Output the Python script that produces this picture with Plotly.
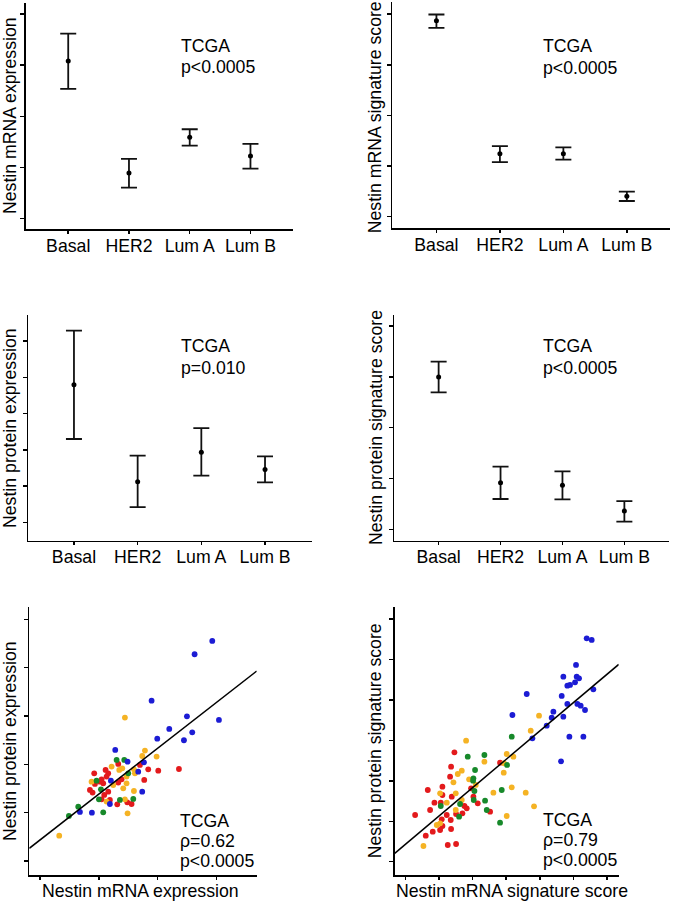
import numpy as np
import plotly.graph_objects as go

W, H = 675, 903
FONT = "Arial, Liberation Sans, sans-serif"
FS = 17.7

# ---------------- data ----------------
categories = ["Basal", "HER2", "Lum A", "Lum B"]

mrna_expr_mean = [3.085, 0.889, 1.588, 1.222]
mrna_expr_upper = [3.62, 1.163, 1.745, 1.458]
mrna_expr_lower = [2.536, 0.601, 1.425, 0.974]

mrna_sig_mean = [3.868, 1.243, 1.243, 0.401]
mrna_sig_upper = [3.993, 1.395, 1.368, 0.493]
mrna_sig_lower = [3.73, 1.079, 1.125, 0.309]

prot_expr_mean = [3.796, 1.121, 1.93, 1.461]
prot_expr_upper = [5.285, 1.838, 2.60, 1.82]
prot_expr_lower = [2.298, 0.423, 1.287, 1.103]

prot_sig_mean = [2.997, 0.918, 0.866, 0.361]
prot_sig_upper = [3.298, 1.233, 1.141, 0.557]
prot_sig_lower = [2.695, 0.597, 0.590, 0.151]

# scatter 1: mRNA expression vs protein expression
s1_blue_x = [2.926, 2.626, 1.896, 2.496, 3.039, 2.196, 2.586, 1.992, 2.445, 1.279, 1.766, 1.488, 1.669, 1.737, 0.679, 0.883, 1.188, 1.205]
s1_blue_y = [4.552, 4.276, 3.317, 2.993, 2.917, 2.731, 2.662, 2.531, 2.497, 2.297, 2.041, 2.055, 1.848, 1.434, 1.014, 1.0, 1.179, 1.662]
s1_green_x = [0.492, 0.651, 1.075, 1.302, 1.432, 0.962, 1.002, 1.358, 1.585, 1.500, 1.036]
s1_green_y = [0.931, 1.124, 1.007, 2.090, 2.090, 1.662, 1.276, 1.262, 1.283, 1.814, 1.483]
s1_yellow_x = [0.328, 1.443, 1.783, 1.981, 1.737, 1.217, 1.596, 1.613, 1.471, 0.877, 1.245, 1.415, 1.471, 1.596, 1.132, 1.443, 1.488, 1.347, 1.398]
s1_yellow_y = [0.524, 2.966, 2.283, 2.159, 2.172, 1.952, 1.897, 1.814, 1.745, 1.641, 1.572, 1.503, 1.607, 1.448, 1.228, 1.276, 0.986, 1.883, 1.917]
s1_red_x = [1.330, 1.698, 1.839, 2.009, 1.771, 0.922, 1.115, 1.160, 1.047, 1.075, 0.934, 0.849, 0.894, 1.160, 1.092, 1.387, 1.330, 1.188, 1.313, 1.483, 1.556, 1.047, 2.360, 1.019, 1.132]
s1_red_y = [2.007, 1.986, 1.897, 1.869, 1.676, 1.814, 1.883, 1.814, 1.690, 1.607, 1.593, 1.469, 1.414, 1.434, 1.366, 1.690, 1.621, 1.262, 1.172, 1.214, 1.179, 1.276, 1.903, 1.641, 1.745]
s1_fit_intercept = 0.433
s1_fit_slope = 0.950

# scatter 2: mRNA signature vs protein signature
s2_blue_x = [5.397, 5.546, 5.079, 4.702, 5.099, 5.169, 5.050, 4.901, 4.821, 5.595, 3.611, 4.653, 4.821, 5.119, 5.218, 5.347, 4.405, 4.355, 4.702, 4.206, 3.185, 3.780, 4.881, 5.298, 4.633]
s2_blue_y = [5.528, 5.487, 4.868, 4.579, 4.579, 4.538, 4.439, 4.373, 4.356, 4.266, 4.150, 4.101, 3.903, 3.903, 3.861, 3.754, 3.713, 3.564, 3.589, 3.366, 3.630, 3.053, 3.094, 3.094, 2.483]
s2_green_x = [1.855, 2.351, 2.073, 2.024, 2.014, 2.054, 2.371, 2.421, 2.867, 2.817, 1.597, 1.627, 1.052, 3.165, 3.026, 2.034]
s2_green_y = [2.599, 2.640, 2.269, 2.063, 2.005, 1.749, 1.510, 1.279, 1.774, 0.965, 1.114, 1.427, 1.378, 3.094, 2.393, 1.526]
s2_yellow_x = [3.978, 3.730, 1.806, 2.351, 3.016, 3.214, 2.937, 1.677, 1.558, 1.429, 1.895, 2.093, 1.032, 1.498, 2.619, 3.165, 3.581, 3.829, 1.230, 1.677, 1.498, 1.032, 0.933, 0.536, 3.016, 2.927]
s2_yellow_y = [3.614, 3.243, 2.995, 2.475, 2.665, 2.599, 2.434, 2.252, 2.170, 1.964, 2.038, 1.898, 1.691, 1.691, 1.708, 1.840, 1.708, 1.370, 1.460, 1.526, 1.279, 0.949, 0.908, 0.388, 1.130, 2.203]
s2_red_x = [1.458, 1.359, 1.329, 1.101, 0.665, 1.101, 0.863, 1.052, 1.379, 0.734, 0.288, 1.230, 1.081, 1.349, 1.508, 1.756, 1.825, 1.696, 1.954, 2.024, 2.153, 2.520, 2.817, 1.101, 1.032, 0.813, 0.605, 1.260, 1.508, 1.359]
s2_red_y = [2.706, 2.351, 2.104, 1.856, 1.774, 1.650, 1.460, 1.460, 1.609, 1.279, 1.155, 1.155, 1.048, 1.031, 1.180, 1.378, 1.320, 1.196, 1.815, 1.609, 1.444, 1.238, 2.450, 0.883, 0.784, 0.743, 0.644, 0.413, 0.437, 0.809]
s2_fit_intercept = 0.430
s2_fit_slope = 0.701

# ---------------- helpers ----------------
def fx(p):
    return p / W


def fy(p):
    return 1 - p / H


BLUE = "#1c1cd4"
GREEN = "#17892a"
YELLOW = "#f5b324"
RED = "#e31a1c"

fig = go.Figure()

axis_common = dict(showgrid=False, zeroline=False, showline=True, linecolor="black",
                   linewidth=1.5, ticks="outside", tickcolor="black", tickwidth=1.5,
                   fixedrange=True)

# (axis suffix, x pixel domain, y pixel domain, x range, y range, x tickvals, y tickvals)
panels = [
    ("", (25.7, 293), (3, 229.3), [-0.70, 3.70], [-0.216, 4.22], None, [0, 1, 2, 3, 4]),
    ("2", (392, 670), (2, 228.3), [-0.70, 3.68], [-0.23, 4.24], None, [0, 1, 2, 3, 4]),
    ("3", (28.3, 311.7), (315, 540.7), [-0.717, 3.733], [-0.505, 5.717], None, [0, 1, 2, 3, 4, 5]),
    ("4", (394.3, 668.7), (315, 540.7), [-0.716, 3.716], [-0.223, 4.216], None, [0, 1, 2, 3, 4]),
    ("5", (29.3, 256.7), (606.7, 875), [-0.18, 3.68], [-0.29, 5.26], [0, 1, 2, 3], [0, 1, 2, 3, 4, 5]),
    ("6", (394.7, 618.7), (606.7, 875), [-0.32, 6.35], [-0.33, 6.31], [0, 1, 2, 3, 4, 5, 6], [0, 1, 2, 3, 4, 5, 6]),
]

for suf, xd, yd, xr, yr, xt, yt in panels:
    xa = dict(axis_common, domain=[fx(xd[0]), fx(xd[1])], range=xr,
              anchor="y" + suf, ticklen=3)
    if xt is None:
        xa.update(type="category", categoryorder="array", categoryarray=categories,
                  tickfont=dict(family=FONT, size=FS, color="black"), ticklabelstandoff=-3)
    else:
        xa.update(tickvals=xt, showticklabels=False)
    ya = dict(axis_common, domain=[fy(yd[1]), fy(yd[0])], range=yr,
              anchor="x" + suf, tickvals=yt, showticklabels=False, ticklen=4)
    fig.update_layout(**{"xaxis" + suf: xa, "yaxis" + suf: ya})

# ---------------- error bar panels ----------------
bar_sets = [
    ("", mrna_expr_mean, mrna_expr_upper, mrna_expr_lower),
    ("2", mrna_sig_mean, mrna_sig_upper, mrna_sig_lower),
    ("3", prot_expr_mean, prot_expr_upper, prot_expr_lower),
    ("4", prot_sig_mean, prot_sig_upper, prot_sig_lower),
]
for suf, m, up, lo in bar_sets:
    m = np.array(m)
    fig.add_trace(go.Scatter(
        x=categories, y=m, mode="markers", xaxis="x" + suf, yaxis="y" + suf,
        marker=dict(color="black", size=5),
        error_y=dict(type="data", symmetric=False, array=np.array(up) - m,
                     arrayminus=m - np.array(lo), color="#111111", thickness=1.8, width=8),
        showlegend=False, hoverinfo="skip"))

# ---------------- scatter panels ----------------
scatter_sets = [
    ("5", [(s1_red_x, s1_red_y, RED), (s1_yellow_x, s1_yellow_y, YELLOW),
           (s1_green_x, s1_green_y, GREEN), (s1_blue_x, s1_blue_y, BLUE)],
     s1_fit_intercept, s1_fit_slope, [-0.18, 3.68]),
    ("6", [(s2_red_x, s2_red_y, RED), (s2_yellow_x, s2_yellow_y, YELLOW),
           (s2_green_x, s2_green_y, GREEN), (s2_blue_x, s2_blue_y, BLUE)],
     s2_fit_intercept, s2_fit_slope, [-0.32, 6.35]),
]
for suf, groups, b0, b1, xr in scatter_sets:
    for gx, gy, col in groups:
        fig.add_trace(go.Scatter(x=gx, y=gy, mode="markers", xaxis="x" + suf, yaxis="y" + suf,
                                 marker=dict(color=col, size=5.8, line=dict(width=0)),
                                 showlegend=False, hoverinfo="skip"))
    lx = np.array(xr)
    fig.add_trace(go.Scatter(x=lx, y=b0 + b1 * lx, mode="lines", xaxis="x" + suf, yaxis="y" + suf,
                             line=dict(color="black", width=1.5), showlegend=False,
                             hoverinfo="skip", cliponaxis=True))

# ---------------- text ----------------
ann = []


def txt(text, x, y, angle=0, xanchor="left"):
    ann.append(dict(text=text, x=fx(x), y=fy(y), xref="paper", yref="paper",
                    xanchor=xanchor, yanchor="middle", showarrow=False, textangle=angle,
                    font=dict(family=FONT, size=FS, color="black")))


# y axis titles
txt("Nestin mRNA expression", 10, 116, -90, "center")
txt("Nestin mRNA signature score", 375.3, 117, -90, "center")
txt("Nestin protein expression", 10, 428, -90, "center")
txt("Nestin protein signature score", 376, 428, -90, "center")
txt("Nestin protein expression", 10, 741, -90, "center")
txt("Nestin protein signature score", 375.3, 741, -90, "center")
# x axis titles (scatter panels)
txt("Nestin mRNA expression", 140.5, 890.5, 0, "center")
txt("Nestin mRNA signature score", 512, 890.5, 0, "center")

# statistics labels
txt("TCGA", 178.5, 46)
txt("p<0.0005", 178.5, 67.5)
txt("TCGA", 540.5, 46)
txt("p<0.0005", 540.5, 68)
txt("TCGA", 178.5, 346)
txt("p=0.010", 178.5, 368)
txt("TCGA", 540.5, 346)
txt("p<0.0005", 540.5, 368)
txt("TCGA", 178, 820.5)
txt("ρ=0.62", 178, 840.5)
txt("p<0.0005", 178, 860.5)
txt("TCGA", 540.5, 819.5)
txt("ρ=0.79", 540.5, 839.5)
txt("p<0.0005", 540.5, 860)

fig.update_layout(
    width=W, height=H, margin=dict(l=0, r=0, t=0, b=0),
    paper_bgcolor="white", plot_bgcolor="white",
    font=dict(family=FONT, size=FS, color="black"),
    annotations=ann, showlegend=False,
)

fig.write_html(
    "out.html",
    config={"displayModeBar": False, "staticPlot": True},
    post_script="document.body.style.margin='0';document.body.style.padding='0';"
                "document.documentElement.style.overflow='hidden';",
)
